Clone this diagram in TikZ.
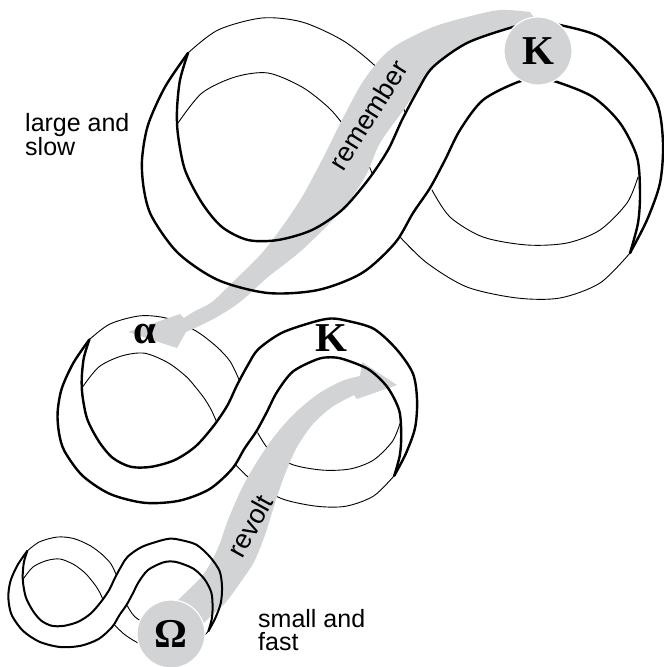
\documentclass[tikz,border=0pt]{standalone}
\usepackage{fontspec}
\setmainfont{Liberation Sans}
\newfontfamily\letterfont{Liberation Serif}
\definecolor{bandgray}{RGB}{209,211,212}
\begin{document}
\begin{tikzpicture}[x=1pt, y=-1pt, line join=round, line cap=round,
	back/.style={line width=0.9pt},
	flow/.style={fill=bandgray},
	phase/.style={font=\letterfont\bfseries\fontsize{41}{41}\selectfont, inner sep=0pt},
	disc/.style={phase, circle, fill=bandgray, draw=white, line width=1.2pt, minimum size=68pt},
	scalelabel/.style={align=left, anchor=north west, inner sep=0pt, font=\fontsize{25}{23}\selectfont},
	flowlabel/.style={font=\fontsize{27}{27}\selectfont, inner sep=0pt}]
	\useasboundingbox (0,0) rectangle (664,667);
	% back edges of the three loops
	\foreach \px/\py/\fx/\fy in {402/158/1/1, 237/411/0.69/0.68, 115/593/0.41/0.4}{
		\begin{scope}[shift={(\px,\py)}, xscale=\fx, yscale=\fy]
		\draw[back] plot[smooth] coordinates {(-214,-105) (-184,-128) (-140,-140) (-100,-136) (-60,-118) (-30,-95) (-10,-73) (3,-46)};
		\draw[back] plot[smooth] coordinates {(-224,-35) (-200,-65) (-167,-81) (-134,-85) (-100,-71) (-74,-51) (-60,-35) (-47,-18) (-37,-1) (-30,15)};
		\draw[back] plot[smooth] coordinates {(-2,79) (25,105) (65,129) (115,140) (158,140) (198,125) (228,95)};
		\draw[back] plot[smooth] coordinates {(30,32) (48,59) (81,79) (125,87) (165,85) (198,72) (225,45) (236,19)};
		\end{scope}
	}
	% remember
	\fill[flow] plot[smooth] coordinates {(530,12) (500,10) (467,17) (433,27) (400,43) (382,57) (362,83) (342,120) (322,160) (302,197) (282,227) (262,253) (235,280) (212,302) (195,311) (184,318)} -- (180,314) -- (128,332) -- (177,348) -- (186,332) -- plot[smooth] coordinates {(197,327) (217,317) (240,302) (268,277) (302,250) (342,210) (365,177) (380,143) (402,112) (418,88) (433,67) (467,43) (513,27) (540,25)} -- cycle;
	% revolt
	\fill[flow] plot[smooth] coordinates {(160,618) (180,598) (203,575) (218,548) (228,520) (241,490) (255,465) (273,438) (294,414) (318,394) (342,381) (360,376)} -- (362,362) -- (397,385) -- (357,399) -- plot[smooth] coordinates {(354,395) (332,407) (313,424) (297,447) (285,474) (275,503) (265,535) (254,562) (240,583) (226,602) (212,615) (197,630)} -- cycle;
	% front edges of the three loops
	\foreach \px/\py/\fx/\fy/\lw in {402/158/1/1/2.4, 237/411/0.69/0.68/2.4, 115/593/0.41/0.4/2}{
		\begin{scope}[shift={(\px,\py)}, xscale=\fx, yscale=\fy, line width=\lw pt]
		\draw plot[smooth] coordinates {(-214,-105) (-237,-71) (-254,-33) (-260,2) (-258,32) (-250,59) (-224,95) (-184,122) (-134,135) (-84,132) (-40,115) (-7,85) (11,55) (28,30) (43,2) (58,-28) (81,-58) (116,-76) (136,-79) (155,-76) (191,-61) (218,-35) (235,-1) (238,35) (236,65) (228,95)};
		\draw plot[smooth] coordinates {(-214,-105) (-222,-78) (-225,-48) (-224,-23) (-217,12) (-200,45) (-180,69) (-154,82) (-124,82) (-90,72) (-60,52) (-34,22) (-14,-8) (0,-38) (16,-68) (31,-91) (65,-115) (111,-131) (136,-136) (158,-133) (198,-121) (231,-91) (255,-55) (261,-15) (258,25) (245,62) (228,95)};
		\end{scope}
	}
	\node[disc] (kbig) at (538,51) {K};
	\node[disc] (omega) at (171,634) {Ω};
	\node[phase] (kmid) at (331,338) {K};
	\node[phase] (alpha) at (145,334) {α};
	\node[flowlabel, rotate=58] (remember) at (368,115) {remember};
	\node[flowlabel, rotate=61] (revolt) at (250,526) {revolt};
	\node[scalelabel] (slow) at (25,113) {large and\\slow};
	\node[scalelabel] (fast) at (258,609) {small and\\fast};
\end{tikzpicture}
\end{document}
